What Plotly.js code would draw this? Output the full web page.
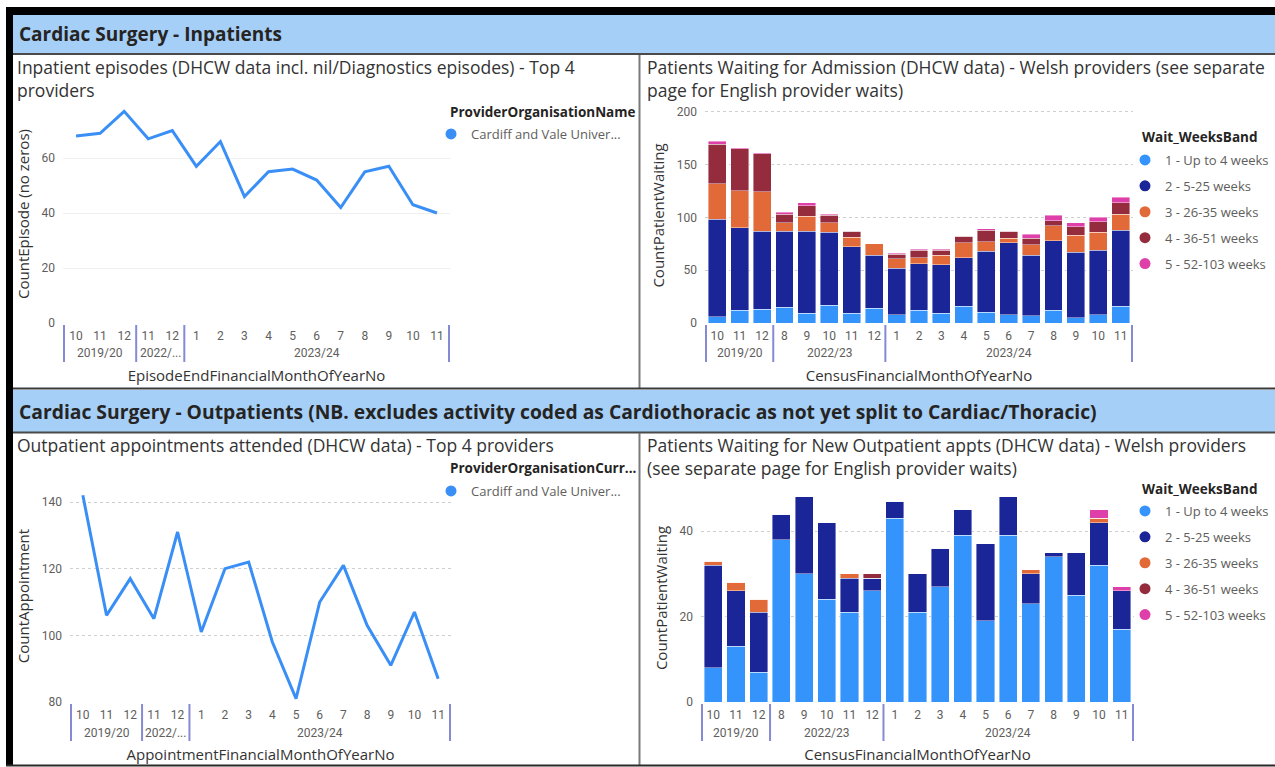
<!DOCTYPE html>
<html><head><meta charset="utf-8">
<script src="https://cdn.plot.ly/plotly-3.0.1.min.js"></script>
<style>html,body{margin:0;padding:0;background:#fff;}#chart{width:1275px;height:767px;}</style>
</head><body><div id="chart"></div>
<script>
// ---------- DATA ----------
// Line charts (inpatient episodes / outpatient appointments)
const lineYears  = ["2019/20","2019/20","2019/20","2022/...","2022/...","2023/24","2023/24","2023/24","2023/24","2023/24","2023/24","2023/24","2023/24","2023/24","2023/24","2023/24"];
const lineMonths = ["10","11","12","11","12","1","2","3","4","5","6","7","8","9","10","11"];
const ipEpisodes = [68,69,77,67,70,57,66,46,55,56,52,42,55,57,43,40];
const opAppointments = [142,106,117,105,131,101,120,122,98,81,110,121,103,91,107,87];
const providerName = "Cardiff and Vale Univer...";

// Stacked bar charts (patients waiting)
const barYears  = ["2019/20","2019/20","2019/20","2022/23","2022/23","2022/23","2022/23","2022/23","2023/24","2023/24","2023/24","2023/24","2023/24","2023/24","2023/24","2023/24","2023/24","2023/24","2023/24"];
const barMonths = ["10","11","12","8","9","10","11","12","1","2","3","4","5","6","7","8","9","10","11"];
const bandNames = ["1 - Up to 4 weeks","2 - 5-25 weeks","3 - 26-35 weeks","4 - 36-51 weeks","5 - 52-103 weeks"];

// Waiting for admission
const admBand1 = [6,12,13,15,9,17,9,14,8,12,9,16,10,8,7,12,5,8,16];
const admBand2 = [92,78,74,72,78,69,63,50,44,44,46,46,58,68,57,66,62,61,72];
const admBand3 = [34,35,37,8,14,9,9,11,9,6,9,14,9,4,10,14,16,17,15];
const admBand4 = [37,40,36,8,10,7,6,0,4,7,5,6,11,7,6,5,8,10,11];
const admBand5 = [3,1,1,2,3,1,0,0,1,1,1,0,1,0,4,5,4,4,5];

// Waiting for new outpatient appointments
const opBand1 = [8,13,7,38,30,24,21,26,43,21,27,39,19,39,23,34,25,32,17];
const opBand2 = [24,13,14,6,18,18,8,3,4,9,9,6,18,9,7,1,10,10,9];
const opBand3 = [1,2,3,0,0,0,1,0,0,0,0,0,0,0,1,0,0,1,0];
const opBand4 = [0,0,0,0,0,0,0,1,0,0,0,0,0,0,0,0,0,0,0];
const opBand5 = [0,0,0,0,0,0,0,0,0,0,0,0,0,0,0,0,0,2,1];

// ---------- STYLE ----------
const W = 1275, H = 767;
const fx = p => p / W;
const fy = p => 1 - p / H;
const FONT = '"Open Sans", "Noto Sans", sans-serif';
const TICKFONT = 'Roboto, "Liberation Sans", sans-serif';
const lineColor = '#3a8ff7';
const bandColors = ['#3494fb','#1a2597','#e26a38','#952c3d','#de3fa9'];
const tickGrey = '#605e5c';
const titleGrey = '#333333';
const legendTitleColor = '#252423';
const dividerColor = '#868ad4';

// period keys (year + month) used as categories; month shown as tick text
const lineKeys = lineYears.map((y,i) => y + ' ' + lineMonths[i]);
const barKeys  = barYears.map((y,i) => y + ' ' + barMonths[i]);

const admBands = [admBand1, admBand2, admBand3, admBand4, admBand5];
const opBands  = [opBand1, opBand2, opBand3, opBand4, opBand5];

const traces = [];
traces.push({type:'scatter', mode:'lines', x:lineKeys, y:ipEpisodes, xaxis:'x', yaxis:'y',
  line:{color:lineColor, width:3}, showlegend:false, name:providerName});
admBands.forEach((b,i)=>traces.push({type:'bar', x:barKeys, y:b, xaxis:'x2', yaxis:'y2',
  marker:{color:bandColors[i], line:{color:'rgba(255,255,255,0.7)', width:0.6}}, showlegend:false, name:bandNames[i]}));
traces.push({type:'scatter', mode:'lines', x:lineKeys, y:opAppointments, xaxis:'x3', yaxis:'y3',
  line:{color:lineColor, width:3}, showlegend:false, name:providerName});
opBands.forEach((b,i)=>traces.push({type:'bar', x:barKeys, y:b, xaxis:'x4', yaxis:'y4',
  marker:{color:bandColors[i], line:{color:'rgba(255,255,255,0.7)', width:0.6}}, showlegend:false, name:bandNames[i]}));

// legend entries (circle symbols, as in the original legends)
const legendEntry = (name, color, legend, group) => ({type:'scatter', mode:'markers', x:[null], y:[null],
  xaxis:'x5', yaxis:'y5', name:name, legend:legend, legendgroup:group, marker:{color:color, size:11, symbol:'circle'}, showlegend:true});
traces.push(legendEntry(providerName, lineColor, 'legend', 'a'));
bandNames.forEach((n,i)=>traces.push(legendEntry(n, bandColors[i], 'legend2', 'b'+i)));
traces.push(legendEntry(providerName, lineColor, 'legend3', 'c'));
bandNames.forEach((n,i)=>traces.push(legendEntry(n, bandColors[i], 'legend4', 'd'+i)));

const xAxis = (keys, months, dom, anchor, title) => ({type:'category', categoryorder:'array', categoryarray:keys,
  tickmode:'array', tickvals:keys, ticktext:months, domain:dom, anchor:anchor,
  showgrid:false, zeroline:false, showline:false, ticks:'', ticklabelstandoff:4, automargin:false,
  tickfont:{family:TICKFONT, size:12, color:tickGrey},
  title:{text:title, font:{family:FONT, size:15, color:titleGrey}, standoff:28}});
const yCommon = {showline:false, zeroline:false, ticks:'', tickfont:{family:TICKFONT, size:12, color:tickGrey},
  gridcolor:'#cfcfcf', griddash:'dot', gridwidth:1, ticklabelstandoff:7, automargin:false};
const yTitle = t => ({text:t, font:{family:FONT, size:15, color:titleGrey}, standoff:8});

const legendCommon = (x, y) => ({x:fx(x), y:fy(y), xanchor:'left', yanchor:'top', bgcolor:'rgba(0,0,0,0)',
  font:{family:FONT, size:13, color:tickGrey}, traceorder:'grouped', tracegroupgap:6, itemsizing:'trace'});

const legendTitle = (x, y, text) => ({xref:'paper', yref:'paper', x:fx(x), y:fy(y), xanchor:'left', yanchor:'middle',
  showarrow:false, text:'<b>'+text+'</b>', font:{family:FONT, size:13.5, color:legendTitleColor}});
const panelTitle = (x, y, text) => ({xref:'paper', yref:'paper', x:fx(x), y:fy(y), xanchor:'left', yanchor:'top', align:'left',
  showarrow:false, text:text, font:{family:FONT, size:17.5, color:titleGrey}});

const shapes = [
  {type:'rect', xref:'paper', yref:'paper', x0:fx(6), x1:fx(1275), y0:fy(7), y1:fy(15), fillcolor:'#000', line:{width:0}},
  {type:'rect', xref:'paper', yref:'paper', x0:fx(6), x1:fx(13), y0:fy(7), y1:fy(765), fillcolor:'#000', line:{width:0}},
  {type:'rect', xref:'paper', yref:'paper', x0:fx(13), x1:fx(1275), y0:fy(15), y1:fy(53), fillcolor:'#a6cff7', line:{width:0}},
  {type:'line', xref:'paper', yref:'paper', x0:fx(13), x1:fx(1275), y0:fy(54), y1:fy(54), line:{color:'#4a4a4a', width:2}},
  {type:'line', xref:'paper', yref:'paper', x0:fx(639.5), x1:fx(639.5), y0:fy(55), y1:fy(388), line:{color:'#7a7a7a', width:2}},
  {type:'line', xref:'paper', yref:'paper', x0:fx(13), x1:fx(1275), y0:fy(388.5), y1:fy(388.5), line:{color:'#3a3a3a', width:2}},
  {type:'rect', xref:'paper', yref:'paper', x0:fx(13), x1:fx(1275), y0:fy(390), y1:fy(432), fillcolor:'#a6cff7', line:{width:0}},
  {type:'line', xref:'paper', yref:'paper', x0:fx(13), x1:fx(1275), y0:fy(432.5), y1:fy(432.5), line:{color:'#4a4a4a', width:2}},
  {type:'line', xref:'paper', yref:'paper', x0:fx(639.5), x1:fx(639.5), y0:fy(433), y1:fy(765), line:{color:'#7a7a7a', width:2}},
  {type:'line', xref:'paper', yref:'paper', x0:fx(6), x1:fx(1275), y0:fy(765.5), y1:fy(765.5), line:{color:'#2a2a2a', width:2}}
];

const annotations = [
  {xref:'paper', yref:'paper', x:fx(17), y:fy(34), xanchor:'left', yanchor:'middle', showarrow:false,
    text:'<b>Cardiac Surgery - Inpatients</b>', font:{family:FONT, size:19, color:'#252423'}},
  {xref:'paper', yref:'paper', x:fx(17), y:fy(411), xanchor:'left', yanchor:'middle', showarrow:false,
    text:'<b>Cardiac Surgery - Outpatients (NB. excludes activity coded as Cardiothoracic as not yet split to Cardiac/Thoracic)</b>', font:{family:FONT, size:19.3, color:'#252423'}},
  panelTitle(15, 53, 'Inpatient episodes (DHCW data incl. nil/Diagnostics episodes) - Top 4<br>providers'),
  panelTitle(645, 53, 'Patients Waiting for Admission (DHCW data) - Welsh providers (see separate<br>page for English provider waits)'),
  panelTitle(15, 431, 'Outpatient appointments attended (DHCW data) - Top 4 providers'),
  panelTitle(645, 431, 'Patients Waiting for New Outpatient appts (DHCW data) - Welsh providers<br>(see separate page for English provider waits)'),
  legendTitle(448, 112, 'ProviderOrganisationName'),
  legendTitle(1140, 137, 'Wait_WeeksBand'),
  legendTitle(448, 468, 'ProviderOrganisationCurr...'),
  legendTitle(1140, 489, 'Wait_WeeksBand')
];

// second level of the hierarchical x axis: financial-year labels and group dividers
function yearLevel(years, xref, axisY, labelY, bottomY) {
  const runs = [];
  years.forEach((y,i) => {
    if (!runs.length || runs[runs.length-1].year !== y) runs.push({year:y, start:i, end:i});
    else runs[runs.length-1].end = i;
  });
  runs.forEach(r => {
    annotations.push({xref:xref, yref:'paper', x:(r.start + r.end)/2, y:fy(labelY), xanchor:'center', yanchor:'middle',
      showarrow:false, text:r.year, font:{family:TICKFONT, size:12, color:tickGrey}});
    shapes.push({type:'line', xref:xref, yref:'paper', x0:r.start-0.5, x1:r.start-0.5, y0:fy(axisY), y1:fy(bottomY),
      line:{color:dividerColor, width:2}});
  });
  const last = runs[runs.length-1].end + 0.5;
  shapes.push({type:'line', xref:xref, yref:'paper', x0:last, x1:last, y0:fy(axisY), y1:fy(bottomY), line:{color:dividerColor, width:2}});
}
yearLevel(lineYears, 'x', 325, 353, 362);
yearLevel(barYears, 'x2', 325, 353, 362);
yearLevel(lineYears, 'x3', 704, 733, 741);
yearLevel(barYears, 'x4', 704, 733, 741);

const layout = {
  width: W, height: H, margin:{l:0,r:0,t:0,b:0}, paper_bgcolor:'#ffffff', plot_bgcolor:'rgba(0,0,0,0)',
  font:{family:FONT}, barmode:'stack', bargap:0.2, showlegend:true,
  xaxis:  xAxis(lineKeys, lineMonths, [fx(63), fx(450)], 'y', 'EpisodeEndFinancialMonthOfYearNo'),
  yaxis:  Object.assign({}, yCommon, {domain:[fy(323), fy(105)], anchor:'x', range:[0, 79.3], dtick:20, griddash:'solid', gridcolor:'#efefef',
    title:yTitle('CountEpisode (no zeros)')}),
  xaxis2: xAxis(barKeys, barMonths, [fx(705), fx(1133)], 'y2', 'CensusFinancialMonthOfYearNo'),
  yaxis2: Object.assign({}, yCommon, {domain:[fy(323), fy(108)], anchor:'x2', range:[0, 203.5], dtick:50,
    title:yTitle('CountPatientWaiting')}),
  xaxis3: xAxis(lineKeys, lineMonths, [fx(70), fx(451)], 'y3', 'AppointmentFinancialMonthOfYearNo'),
  yaxis3: Object.assign({}, yCommon, {domain:[fy(702), fy(490)], anchor:'x3', range:[80, 143.6], dtick:20,
    title:yTitle('CountAppointment')}),
  xaxis4: xAxis(barKeys, barMonths, [fx(701), fx(1134)], 'y4', 'CensusFinancialMonthOfYearNo'),
  yaxis4: Object.assign({}, yCommon, {domain:[fy(702), fy(494)], anchor:'x4', range:[0, 48.7], dtick:20,
    title:yTitle('CountPatientWaiting')}),
  xaxis5: {domain:[0,0.01], anchor:'y5', visible:false},
  yaxis5: {domain:[0,0.01], anchor:'x5', visible:false},
  legend:  legendCommon(431, 119),
  legend2: legendCommon(1125, 145),
  legend3: legendCommon(431, 476),
  legend4: legendCommon(1125, 496),
  shapes: shapes,
  annotations: annotations
};

Plotly.newPlot('chart', traces, layout, {staticPlot:true, displayModeBar:false});
</script></body></html>
